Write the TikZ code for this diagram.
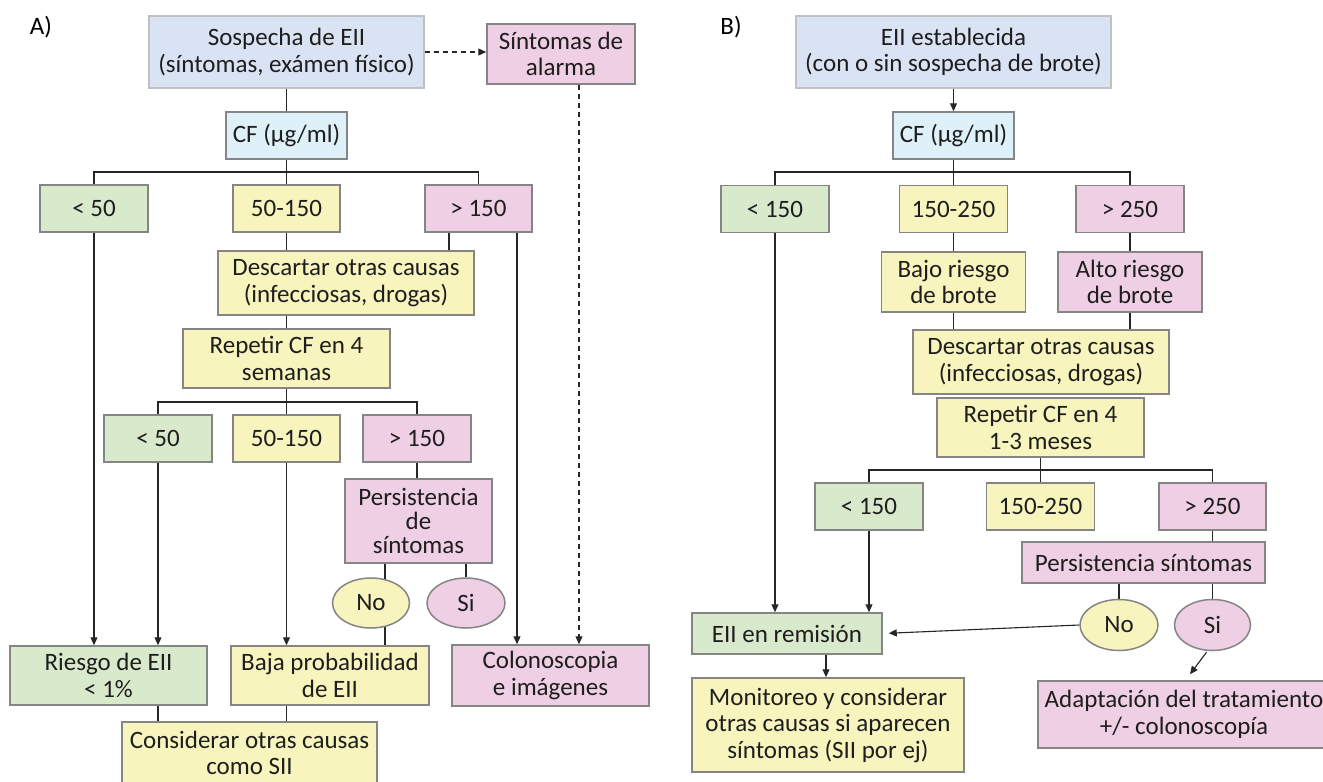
\documentclass[tikz,border=0pt]{standalone}
\usepackage{fontspec}
\setmainfont{Carlito}
\usetikzlibrary{arrows.meta,calc,shapes.geometric,backgrounds}
\pgfdeclarelayer{bottom}
\pgfsetlayers{bottom,background,main}
\definecolor{blueF}{HTML}{DAE3F3}
\definecolor{cyanF}{HTML}{DEF1F8}
\definecolor{greenF}{HTML}{D8E9CC}
\definecolor{yellowF}{HTML}{F7F4BD}
\definecolor{pinkF}{HTML}{EECFE3}
\definecolor{bordC}{HTML}{858585}
\definecolor{bordL}{HTML}{C0C0C0}
\definecolor{lineC}{HTML}{262626}
\definecolor{txtC}{HTML}{1E1E1E}
\begin{document}
\begin{tikzpicture}[x=1pt,y=-1pt,
  box/.style={draw=bordC, line width=1.5pt, align=center, inner sep=0pt, text=txtC, font=\fontsize{25}{26.5}\selectfont},
  ell/.style={box, ellipse},
  lbl/.style={inner sep=0pt, text=black, font=\fontsize{25}{26}\selectfont},
  conn/.style={line width=1.1pt, draw=lineC},
  arr/.style={conn, -{Triangle[length=8pt,width=7pt]}},
  dsh/.style={arr, dash pattern=on 5pt off 4pt},
]
\useasboundingbox (0,0) rectangle (1323,782);
\begin{pgfonlayer}{bottom}
\fill[white] (0,0) rectangle (1323,782);
\end{pgfonlayer}

% ---------------- A ----------------
\node[lbl] (labA) at (41,27) {A)};
\node[box, draw=bordL, fill=blueF, minimum width=275pt, minimum height=72pt] (sosp) at (286.5,52) {Sospecha de EII\\(síntomas, exámen físico)};
\node[box, fill=pinkF, minimum width=148pt, minimum height=60pt] (sint) at (561,54) {Síntomas de\\alarma};
\node[box, fill=cyanF, minimum width=121pt, minimum height=47pt] (cfA) at (286.5,135.5) {CF (µg/ml)};
\node[box, fill=greenF, minimum width=108pt, minimum height=47pt] (a50) at (94,208.5) {< 50};
\node[box, fill=yellowF, minimum width=107pt, minimum height=47pt] (a50150) at (286.5,208.5) {50-150};
\node[box, fill=pinkF, minimum width=107pt, minimum height=47pt] (a150) at (478.5,208.5) {> 150};
\node[box, fill=yellowF, minimum width=256pt, minimum height=64pt] (descA) at (346,283) {Descartar otras causas\\(infecciosas, drogas)};
\node[box, fill=yellowF, minimum width=207pt, minimum height=59pt] (repA) at (286.5,358.5) {Repetir CF en 4\\semanas};
\node[box, fill=greenF, minimum width=108pt, minimum height=47pt] (b50) at (158,438.5) {< 50};
\node[box, fill=yellowF, minimum width=107pt, minimum height=47pt] (b50150) at (286.5,438.5) {50-150};
\node[box, fill=pinkF, minimum width=108pt, minimum height=47pt] (b150) at (417,438.5) {> 150};
\node[box, fill=pinkF, minimum width=147pt, minimum height=84pt, font=\fontsize{25}{24}\selectfont] (persA) at (418.5,521) {Persistencia\\de\\síntomas};
\node[ell, fill=yellowF, minimum width=77pt, minimum height=50pt] (noA) at (371,603) {No};
\node[ell, fill=pinkF, minimum width=78pt, minimum height=50pt] (siA) at (466,603) {Si};
\node[box, fill=greenF, minimum width=197pt, minimum height=59pt] (riesgo) at (108.5,675.5) {Riesgo de EII\\< 1\%};
\node[box, fill=yellowF, minimum width=198pt, minimum height=59pt] (baja) at (330,675.5) {Baja probabilidad\\de EII};
\node[box, fill=pinkF, minimum width=197pt, minimum height=61pt] (colon) at (550.5,675.5) {Colonoscopia\\e imágenes};
\node[box, fill=yellowF, minimum width=255pt, minimum height=62pt] (consid) at (249.5,753) {Considerar otras causas\\como SII};

% ---------------- B ----------------
\node[lbl] (labB) at (731,27) {B)};
\node[box, draw=bordL, fill=blueF, minimum width=315pt, minimum height=72pt] (eiiB) at (953.5,52) {EII establecida\\(con o sin sospecha de brote)};
\node[box, fill=cyanF, minimum width=121pt, minimum height=47pt] (cfB) at (953.5,135.5) {CF (µg/ml)};
\node[box, fill=greenF, minimum width=108pt, minimum height=47pt] (c150) at (775,209) {< 150};
\node[box, fill=yellowF, minimum width=108pt, minimum height=47pt] (c150250) at (953.5,209) {150-250};
\node[box, fill=pinkF, minimum width=108pt, minimum height=47pt] (c250) at (1130,209) {> 250};
\node[box, fill=yellowF, minimum width=144pt, minimum height=60pt] (bajo) at (953.5,282) {Bajo riesgo\\de brote};
\node[box, fill=pinkF, minimum width=144pt, minimum height=60pt] (alto) at (1130,282) {Alto riesgo\\de brote};
\node[box, fill=yellowF, minimum width=256pt, minimum height=64pt] (descB) at (1041,362) {Descartar otras causas\\(infecciosas, drogas)};
\node[box, fill=yellowF, minimum width=207pt, minimum height=59pt] (repB) at (1040.5,427.5) {Repetir CF en 4\\1-3 meses};
\node[box, fill=greenF, minimum width=108pt, minimum height=47pt] (d150) at (869,506.5) {< 150};
\node[box, fill=yellowF, minimum width=108pt, minimum height=47pt] (d150250) at (1040.5,506.5) {150-250};
\node[box, fill=pinkF, minimum width=107pt, minimum height=47pt] (d250) at (1212.5,506.5) {> 250};
\node[box, fill=pinkF, minimum width=243pt, minimum height=41pt] (persB) at (1143.5,562.5) {Persistencia síntomas};
\node[ell, fill=yellowF, minimum width=78pt, minimum height=51pt] (noB) at (1119,625) {No};
\node[ell, fill=pinkF, minimum width=76pt, minimum height=51pt] (siB) at (1212.5,625) {Si};
\node[box, fill=greenF, minimum width=190pt, minimum height=41pt] (remB) at (787,633.5) {EII en remisión};
\node[box, fill=yellowF, minimum width=272pt, minimum height=94pt] (monB) at (828,725) {Monitoreo y considerar\\otras causas si aparecen\\síntomas (SII por ej)};
\node[box, fill=pinkF, minimum width=292pt, minimum height=67pt] (adapB) at (1184,714.5) {Adaptación del tratamiento\\+/- colonoscopía};

% ---------------- connectors ----------------
\begin{scope}[on background layer]
% A
\draw[dsh] (sosp.east) -- (sosp.east -| sint.west);
\draw[conn] (sosp) -- (cfA);
\coordinate (busA) at (286.5,172);
\draw[conn] (cfA.south) -- (a50150.north);
\draw[conn] (a50.north) |- (busA) -| (a150.north);
\draw[conn] (a50150.south) -- (a50150.south |- descA.north);
\coordinate (a150l) at ($(a150.south)+(-29.5,0)$);
\draw[conn] (a150l) -- (a150l |- descA.north);
\coordinate (a150r) at ($(a150.south)+(38.5,0)$);
\draw[arr] (a150r) -- (a150r |- colon.north);
\coordinate (sintd) at ($(sint.south)+(18,0)$);
\draw[dsh] (sintd) -- (sintd |- colon.north);
\draw[conn] (repA.north |- descA.south) -- (repA.north);
\coordinate (busA2) at (286.5,402);
\draw[conn] (repA.south) -- (b50150.north);
\draw[conn] (b50.north) |- (busA2) -| (b150.north);
\draw[arr] (a50.south) -- (a50.south |- riesgo.north);
\draw[arr] (b50.south) -- (b50.south |- riesgo.north);
\draw[arr] (b50150.south) -- (b50150.south |- baja.north);
\draw[conn] (b150.south) -- (b150.south |- persA.north);
\coordinate (noAc) at ($(noA.center)+(14,0)$);
\draw[conn] (noAc |- persA.south) -- (noAc);
\draw[conn] (noAc) -- (noAc |- baja.north);
\draw[conn] (siA.north |- persA.south) -- (siA.north);
\draw[conn] (riesgo.south -| b50.south) -- (b50.south |- consid.north);
\draw[conn] (baja.south -| b50150.south) -- (b50150.south |- consid.north);
% B
\draw[arr] (eiiB) -- (cfB);
\coordinate (busB) at (953.5,172);
\draw[conn] (cfB.south) -- (c150250.north);
\draw[conn] (c150.north) |- (busB) -| (c250.north);
\draw[conn] (c150250) -- (bajo);
\draw[conn] (c250) -- (alto);
\draw[conn] (bajo.south) -- (bajo.south |- descB.north);
\draw[conn] (alto.south) -- (alto.south |- descB.north);
\coordinate (busB2) at (1040.5,470);
\draw[conn] (repB.south) -- (d150250.north);
\draw[conn] (d150.north) |- (busB2) -| (d250.north);
\draw[arr] (c150.south) -- (c150.south |- remB.north);
\draw[arr] (d150.south) -- (d150.south |- remB.north);
\draw[conn] (d250.south) -- (d250.south |- persB.north);
\draw[conn] (noB.north |- persB.south) -- (noB.north);
\draw[conn] (siB.north |- persB.south) -- (siB.north);
\draw[arr, shorten >=6pt] (noB.west) -- (remB.east);
\coordinate (remBd) at ($(remB.south)+(39,0)$);
\draw[arr] (remBd) -- (remBd |- monB.north);
\draw[arr] ($(siB.south)+(-6,1)$) -- ($(adapB.north)+(6,-6)$);
\end{scope}
\end{tikzpicture}
\end{document}
